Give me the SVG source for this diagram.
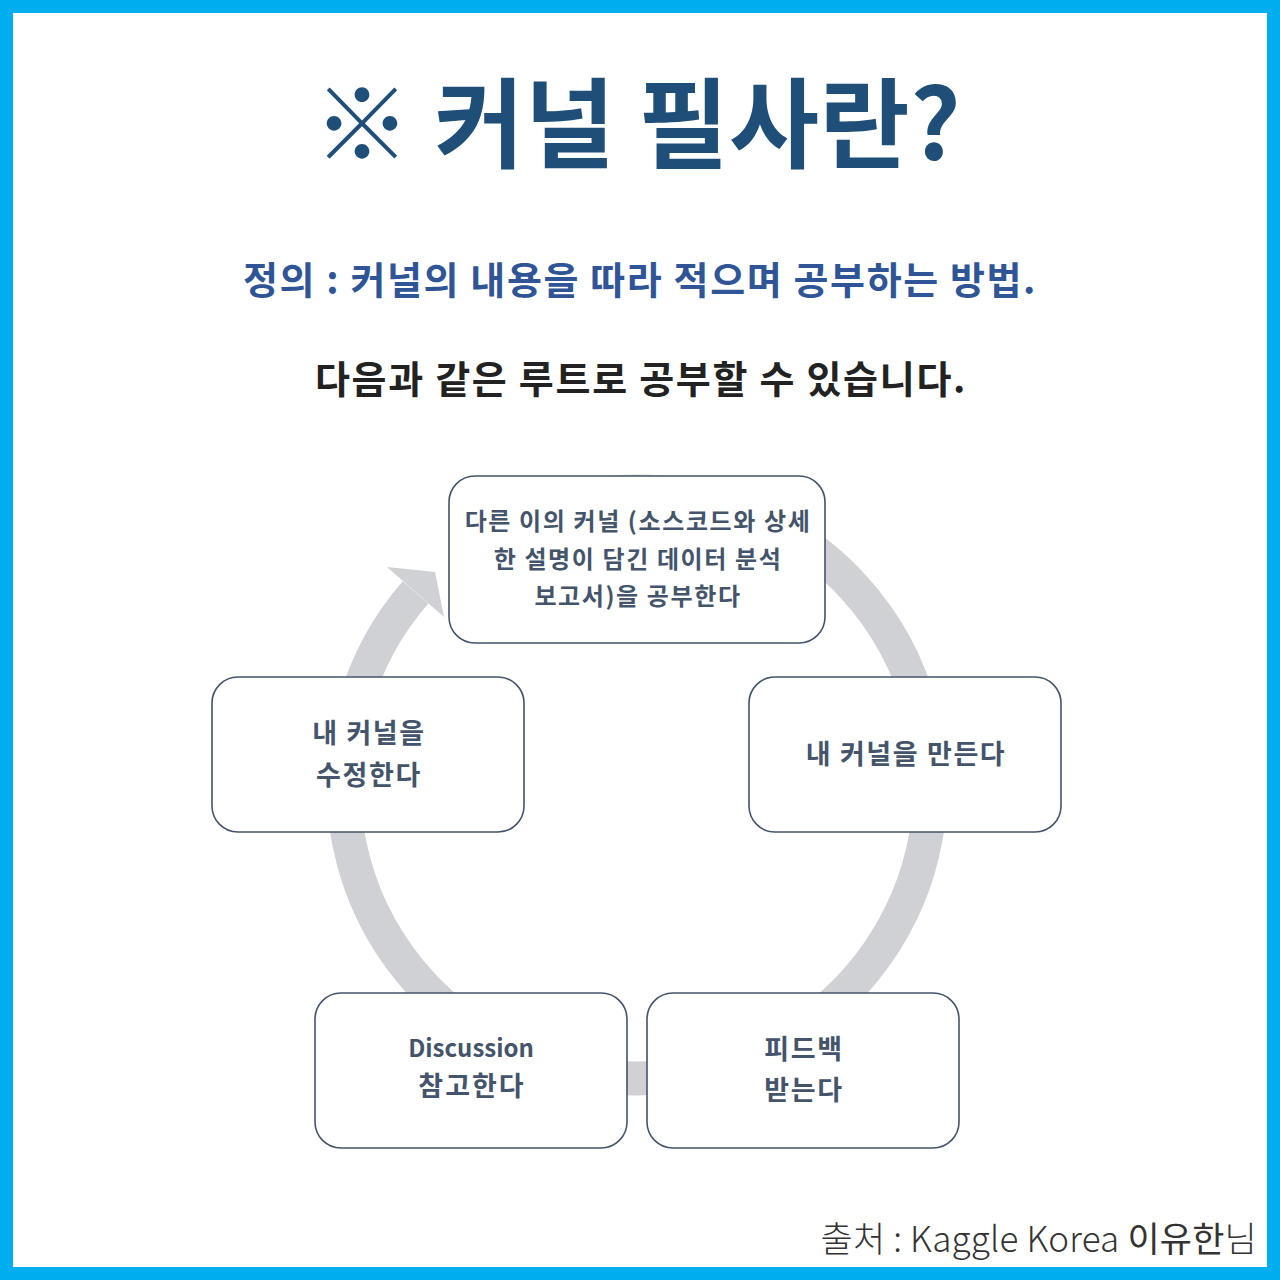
<svg xmlns="http://www.w3.org/2000/svg" width="1280" height="1280" viewBox="0 0 1280 1280">
<style>
.kr{font-family:"Noto Sans CJK KR","Noto Sans",sans-serif;}
.box{fill:#ffffff;stroke:#44546A;stroke-width:1.6;}
.bt{font-family:"Noto Sans CJK KR","Noto Sans",sans-serif;font-weight:700;fill:#44546A;text-anchor:middle;letter-spacing:1.6px;}
</style>
<rect x="0" y="0" width="1280" height="1280" fill="#00AEEF"/>
<rect x="13" y="13" width="1254" height="1254" fill="#ffffff"/>
<text class="kr" x="637" y="160" font-size="98" font-weight="700" fill="#1F4E79" text-anchor="middle" letter-spacing="0.5">※ 커널 필사란?</text>
<text class="kr" x="640" y="294" font-size="38" font-weight="700" fill="#2F5597" text-anchor="middle" letter-spacing="1.6">정의 : 커널의 내용을 따라 적으며 공부하는 방법.</text>
<text class="kr" x="641" y="393" font-size="38" font-weight="700" fill="#222222" text-anchor="middle" letter-spacing="1.7">다음과 같은 루트로 공부할 수 있습니다.</text>
<g id="connectors">
<path d="M611.4 492.6 A293.5 293.5 0 1 1 415.5 592.4" fill="none" stroke="#D0D1D5" stroke-width="34"/>
<polygon points="387,567 435,572 444,617" fill="#D0D1D5"/>
</g>
<g id="node-top">
<rect class="box" x="449" y="476" width="376" height="167" rx="26"/>
<text class="bt" x="638" y="530" font-size="24">다른 이의 커널 (소스코드와 상세</text>
<text class="bt" x="638" y="568" font-size="24">한 설명이 담긴 데이터 분석</text>
<text class="bt" x="638" y="605" font-size="24">보고서)을 공부한다</text>
</g>
<g id="node-right">
<rect class="box" x="749" y="677" width="312" height="155" rx="26"/>
<text class="bt" x="906" y="764" font-size="27">내 커널을 만든다</text>
</g>
<g id="node-left">
<rect class="box" x="212" y="677" width="312" height="155" rx="26"/>
<text class="bt" x="369" y="743" font-size="27">내 커널을</text>
<text class="bt" x="369" y="785" font-size="27">수정한다</text>
</g>
<g id="node-bottom-right">
<rect class="box" x="647" y="993" width="312" height="155" rx="26"/>
<text class="bt" x="804" y="1059" font-size="27">피드백</text>
<text class="bt" x="804" y="1100" font-size="27">받는다</text>
</g>
<g id="node-bottom-left">
<rect class="box" x="315" y="993" width="312" height="155" rx="26"/>
<text class="bt" x="471" y="1057" font-size="24" style="letter-spacing:0">Discussion</text>
<text class="bt" x="472" y="1096" font-size="27" style="letter-spacing:2px">참고한다</text>
</g>
<text class="kr" x="1257" y="1252" font-size="35" font-weight="300" fill="#333333" text-anchor="end" letter-spacing="0.2">출처 : Kaggle Korea <tspan font-weight="400">이유한</tspan>님</text>
</svg>
